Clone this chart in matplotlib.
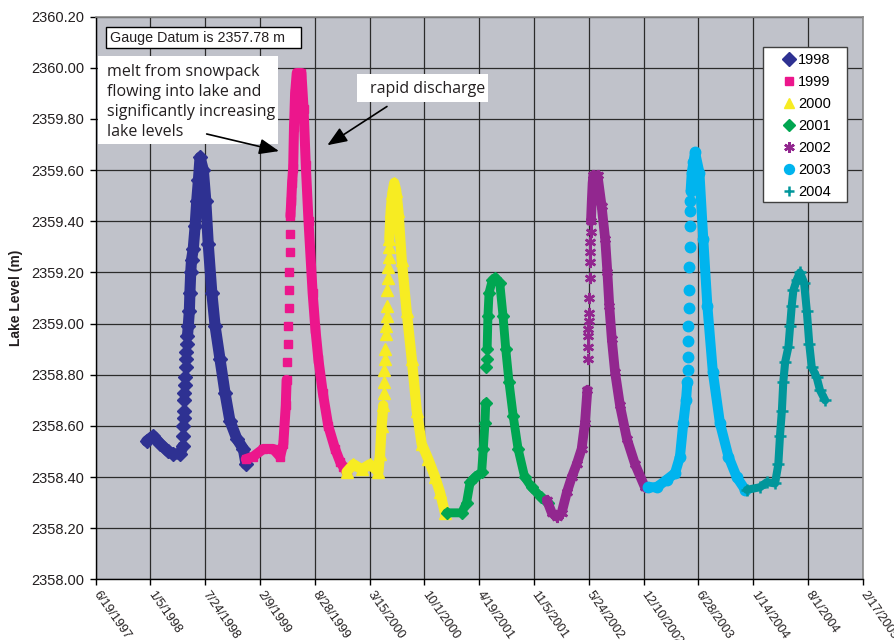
"""Daily lake level, one marker series per year (1998-2004)."""

from datetime import datetime

import matplotlib

matplotlib.use("Agg")

import matplotlib.pyplot as plt
import numpy as np
from matplotlib.patches import Rectangle

NAN = float("nan")

YEARS = ["1998", "1999", "2000", "2001", "2002", "2003", "2004"]

X_TICK_LABELS = [
    "6/19/1997", "1/5/1998", "7/24/1998", "2/9/1999", "8/28/1999",
    "3/15/2000", "10/1/2000", "4/19/2001", "11/5/2001", "5/24/2002",
    "12/10/2002", "6/28/2003", "1/14/2004", "8/1/2004", "2/17/2005",
]
Y_TICKS = [2358.00, 2358.20, 2358.40, 2358.60, 2358.80, 2359.00,
           2359.20, 2359.40, 2359.60, 2359.80, 2360.00, 2360.20]

# Dense daily readings; a NaN level splits the trace where readings spread out.
DATES_1998 = ["1997-12-22", "1998-01-15", "1998-02-09", "1998-03-11", "1998-03-29",
              "1998-04-23", "1998-05-03", "1998-05-03",
              "1998-05-20", "1998-05-23", "1998-05-27", "1998-05-29", "1998-06-01",
              "1998-06-04", "1998-06-10", "1998-06-17", "1998-06-23", "1998-06-29",
              "1998-07-05", "1998-07-17", "1998-07-26", "1998-08-04", "1998-08-17",
              "1998-08-29", "1998-09-16", "1998-10-04", "1998-10-22", "1998-11-16",
              "1998-12-10", "1998-12-20"]
LEVELS_1998 = [2358.54, 2358.56, 2358.53, 2358.50, 2358.49,
               2358.49, 2358.52, NAN,
               2358.95, 2358.99, 2359.05, 2359.12, 2359.20,
               2359.25, 2359.29, 2359.38, 2359.48, 2359.56,
               2359.65, 2359.60, 2359.48, 2359.31, 2359.12,
               2358.99, 2358.86, 2358.73, 2358.62, 2358.55,
               2358.51, 2358.45]
# Readings on the steep spring rise that show up as separate markers.
RISE_DATES_1998 = ["1998-05-04", "1998-05-05", "1998-05-06", "1998-05-07",
                   "1998-05-08", "1998-05-09", "1998-05-11", "1998-05-12",
                   "1998-05-13", "1998-05-15", "1998-05-16", "1998-05-18"]
RISE_LEVELS_1998 = [2358.56, 2358.60, 2358.63, 2358.66, 2358.70, 2358.73,
                    2358.76, 2358.79, 2358.83, 2358.86, 2358.89, 2358.92]

DATES_1999 = ["1998-12-19", "1999-01-15", "1999-02-21", "1999-03-29", "1999-04-23",
              "1999-05-05", "1999-05-14", "1999-05-17", "1999-05-17",
              "1999-05-31", "1999-06-03", "1999-06-06", "1999-06-10", "1999-06-13",
              "1999-06-17", "1999-06-23", "1999-07-10", "1999-07-18", "1999-07-26",
              "1999-08-05", "1999-08-20", "1999-08-30", "1999-09-10", "1999-09-26",
              "1999-10-16", "1999-11-10", "1999-11-28", "1999-12-10", "1999-12-22"]
LEVELS_1999 = [2358.47, 2358.48, 2358.51, 2358.51, 2358.48,
               2358.53, 2358.68, 2358.78, NAN,
               2359.42, 2359.48, 2359.55, 2359.61, 2359.77,
               2359.90, 2359.98, 2359.98, 2359.84, 2359.62,
               2359.40, 2359.12, 2358.98, 2358.86, 2358.73,
               2358.60, 2358.51, 2358.46, 2358.44, 2358.42]
RISE_DATES_1999 = ["1999-05-19", "1999-05-21", "1999-05-22", "1999-05-24",
                   "1999-05-25", "1999-05-27", "1999-05-28", "1999-05-30"]
RISE_LEVELS_1999 = [2358.85, 2358.92, 2358.99, 2359.06, 2359.13, 2359.20,
                    2359.28, 2359.35]

DATES_2000 = ["1999-12-22", "2000-01-16", "2000-02-15", "2000-03-16", "2000-04-16",
              "2000-04-22", "2000-04-28", "2000-05-04", "2000-05-04",
              "2000-05-26", "2000-05-31", "2000-06-06", "2000-06-13", "2000-06-20",
              "2000-06-28", "2000-07-10", "2000-07-28", "2000-08-16", "2000-09-03",
              "2000-09-21", "2000-10-15", "2000-11-09", "2000-11-27", "2000-12-15"]
LEVELS_2000 = [2358.42, 2358.45, 2358.43, 2358.45, 2358.42,
               2358.49, 2358.60, 2358.68, NAN,
               2359.33, 2359.44, 2359.51, 2359.55, 2359.52,
               2359.44, 2359.25, 2359.05, 2358.86, 2358.66,
               2358.53, 2358.47, 2358.40, 2358.34, 2358.26]
RISE_DATES_2000 = ["2000-05-05", "2000-05-07", "2000-05-08", "2000-05-10",
                   "2000-05-11", "2000-05-13", "2000-05-14", "2000-05-16",
                   "2000-05-17", "2000-05-19", "2000-05-20", "2000-05-22",
                   "2000-05-23", "2000-05-25"]
RISE_LEVELS_2000 = [2358.73, 2358.77, 2358.82, 2358.86, 2358.90, 2358.96,
                    2358.99, 2359.03, 2359.07, 2359.13, 2359.18, 2359.22,
                    2359.26, 2359.30]

DATES_2001 = ["2000-12-21", "2001-02-14", "2001-03-04", "2001-03-17", "2001-04-04",
              "2001-04-28", "2001-05-04", "2001-05-10", "2001-05-13", "2001-05-13",
              "2001-05-18", "2001-05-21", "2001-05-25", "2001-06-06", "2001-06-17",
              "2001-07-03", "2001-07-15", "2001-07-25", "2001-08-06", "2001-08-21",
              "2001-09-08", "2001-10-02", "2001-10-27", "2001-12-02", "2001-12-27"]
LEVELS_2001 = [2358.26, 2358.26, 2358.30, 2358.38, 2358.40,
               2358.42, 2358.51, 2358.61, 2358.69, NAN,
               2358.90, 2359.03, 2359.12, 2359.17, 2359.18,
               2359.16, 2359.03, 2358.90, 2358.77, 2358.64,
               2358.51, 2358.40, 2358.36, 2358.32, 2358.30]
RISE_DATES_2001 = ["2001-05-14", "2001-05-16"]
RISE_LEVELS_2001 = [2358.83, 2358.86]

DATES_2002 = ["2001-12-22", "2002-01-09", "2002-01-27", "2002-02-14", "2002-03-05",
              "2002-03-23", "2002-04-10", "2002-04-28", "2002-05-10", "2002-05-19",
              "2002-05-19",
              "2002-06-01", "2002-06-04", "2002-06-07", "2002-06-10", "2002-06-25",
              "2002-07-10", "2002-07-23", "2002-07-31", "2002-08-07", "2002-08-16",
              "2002-08-28", "2002-09-15", "2002-10-10", "2002-11-09", "2002-12-15"]
LEVELS_2002 = [2358.31, 2358.26, 2358.245, 2358.26, 2358.34,
               2358.40, 2358.45, 2358.51, 2358.61, 2358.74,
               NAN,
               2359.40, 2359.48, 2359.55, 2359.58, 2359.58,
               2359.46, 2359.33, 2359.20, 2359.07, 2358.94,
               2358.81, 2358.68, 2358.55, 2358.45, 2358.36]
RISE_DATES_2002 = ["2002-05-20", "2002-05-21", "2002-05-22", "2002-05-23",
                   "2002-05-24", "2002-05-25", "2002-05-26", "2002-05-27",
                   "2002-05-28", "2002-05-29", "2002-05-30", "2002-05-31"]
RISE_LEVELS_2002 = [2358.86, 2358.91, 2358.95, 2358.98, 2359.01, 2359.04,
                    2359.10, 2359.18, 2359.24, 2359.28, 2359.32, 2359.36]

DATES_2003 = ["2002-12-28", "2003-01-27", "2003-03-05", "2003-04-04", "2003-04-22",
              "2003-05-04", "2003-05-14", "2003-05-19", "2003-05-19",
              "2003-05-31", "2003-06-04", "2003-06-10", "2003-06-16", "2003-07-02",
              "2003-07-16", "2003-07-31", "2003-08-20", "2003-09-15", "2003-10-16",
              "2003-11-15", "2003-12-16"]
LEVELS_2003 = [2358.36, 2358.36, 2358.39, 2358.415, 2358.48,
               2358.61, 2358.70, 2358.77, NAN,
               2359.52, 2359.59, 2359.63, 2359.67, 2359.59,
               2359.33, 2359.07, 2358.81, 2358.61, 2358.48,
               2358.40, 2358.35]
RISE_DATES_2003 = ["2003-05-20", "2003-05-21", "2003-05-22", "2003-05-23",
                   "2003-05-24", "2003-05-25", "2003-05-26", "2003-05-27",
                   "2003-05-28", "2003-05-29", "2003-05-30"]
RISE_LEVELS_2003 = [2358.82, 2358.87, 2358.93, 2358.99, 2359.06, 2359.13,
                    2359.22, 2359.30, 2359.38, 2359.44, 2359.48]

DATES_2004 = ["2003-12-22", "2004-02-08", "2004-03-04", "2004-04-03", "2004-04-15",
              "2004-04-21", "2004-04-28", "2004-05-03", "2004-05-10", "2004-05-22",
              "2004-05-28", "2004-06-03", "2004-06-09", "2004-06-21", "2004-07-03",
              "2004-07-18", "2004-07-28", "2004-08-06", "2004-08-15", "2004-09-02",
              "2004-09-14", "2004-10-03"]
LEVELS_2004 = [2358.35, 2358.36, 2358.38, 2358.375, 2358.45,
               2358.56, 2358.66, 2358.77, 2358.85, 2358.91,
               2358.99, 2359.07, 2359.13, 2359.17, 2359.20,
               2359.16, 2359.05, 2358.92, 2358.83, 2358.79,
               2358.74, 2358.70]
RISE_DATES_2004 = []
RISE_LEVELS_2004 = []

SERIES = [
    (DATES_1998, LEVELS_1998, RISE_DATES_1998, RISE_LEVELS_1998),
    (DATES_1999, LEVELS_1999, RISE_DATES_1999, RISE_LEVELS_1999),
    (DATES_2000, LEVELS_2000, RISE_DATES_2000, RISE_LEVELS_2000),
    (DATES_2001, LEVELS_2001, RISE_DATES_2001, RISE_LEVELS_2001),
    (DATES_2002, LEVELS_2002, RISE_DATES_2002, RISE_LEVELS_2002),
    (DATES_2003, LEVELS_2003, RISE_DATES_2003, RISE_LEVELS_2003),
    (DATES_2004, LEVELS_2004, RISE_DATES_2004, RISE_LEVELS_2004),
]

COLORS = ["#2E3192", "#EC168C", "#F7EC22", "#00A651", "#92278F", "#00B4EE", "#00969B"]
MARKERS = ["D", "s", "^", "D", (6, 2, 0), "o", "+"]
MARKER_SIZES = [7.0, 6.2, 8.0, 6.5, 8.0, 7.5, 8.0]
TRACE_WIDTHS = [8.0, 7.2, 7.4, 6.4, 7.0, 7.2, 5.8]

PLOT_BG = "#C0C2CA"
GRID = "#2B2B2B"
TEXT = "#231F20"


def to_day(values):
    return np.array(values, dtype="datetime64[D]")


def main() -> None:
    plt.rcParams["font.family"] = ["Liberation Sans", "DejaVu Sans"]

    fig = plt.figure(figsize=(8.95, 6.4), dpi=100)
    ax = fig.add_axes([0.1069, 0.0948, 0.8570, 0.8791])
    ax.set_facecolor(PLOT_BG)

    for year, color, marker, ms, lw, (dates, levels, rise_d, rise_l) in zip(
        YEARS, COLORS, MARKERS, MARKER_SIZES, TRACE_WIDTHS, SERIES
    ):
        d = to_day(dates)
        lv = np.array(levels, dtype=float)
        ax.plot(d, lv, "-", color=color, lw=lw, solid_capstyle="round",
                solid_joinstyle="round", zorder=3)
        all_d = np.concatenate([d, to_day(rise_d)])
        all_l = np.concatenate([lv, np.array(rise_l, dtype=float)])
        mew = 1.8 if marker == "+" or isinstance(marker, tuple) else 1.0
        ax.plot(all_d, all_l, ls="none", marker=marker, ms=ms, color=color,
                mew=mew, label=year, zorder=3)

    tick_dates = [datetime.strptime(t, "%m/%d/%Y") for t in X_TICK_LABELS]
    ax.set_xlim(tick_dates[0], tick_dates[-1])
    ax.set_xticks(tick_dates)
    ax.set_xticklabels(X_TICK_LABELS, rotation=-55, ha="left", va="center",
                       rotation_mode="anchor", fontsize=9, color=TEXT)
    ax.set_ylim(Y_TICKS[0], Y_TICKS[-1])
    ax.set_yticks(Y_TICKS)
    ax.set_yticklabels([f"{v:.2f}" for v in Y_TICKS], fontsize=10.5, color=TEXT)
    ax.tick_params(axis="both", direction="out", length=4, width=1, color="black")
    ax.tick_params(axis="y", pad=4)
    ax.tick_params(axis="x", pad=5)

    ax.grid(True, color=GRID, lw=0.9)
    ax.set_axisbelow(True)
    for side in ("left", "bottom"):
        ax.spines[side].set_color("black")
        ax.spines[side].set_linewidth(1.0)
    for side in ("top", "right"):
        ax.spines[side].set_color("#8A8A8A")
        ax.spines[side].set_linewidth(1.2)

    ax.set_ylabel("Lake Level (m)", fontsize=10, fontweight="bold", color=TEXT,
                  labelpad=6)

    # legend: white frame drawn as a patch, entries placed inside it
    ax.add_patch(Rectangle((0.8704, 0.6701), 0.1087, 0.2766, transform=ax.transAxes,
                           facecolor="white", edgecolor="#404040", lw=1.0, zorder=4))
    ax.legend(loc="upper left", bbox_to_anchor=(0.8957, 0.9350), frameon=False,
              fontsize=10.5, handlelength=0.8, handletextpad=0.25,
              labelspacing=0.55, borderpad=0, borderaxespad=0, numpoints=1,
              markerscale=0.95)

    # gauge datum note
    ax.add_patch(Rectangle((0.0134, 0.9438), 0.2539, 0.0384, transform=ax.transAxes,
                           facecolor="white", edgecolor="black", lw=1.0, zorder=4))
    ax.text(0.0186, 0.9630, "Gauge Datum is 2357.78 m", transform=ax.transAxes,
            ha="left", va="center", fontsize=10.3, color=TEXT, zorder=5)

    # snowmelt note and arrow
    ax.add_patch(Rectangle((0.0026, 0.7732), 0.2355, 0.1575, transform=ax.transAxes,
                           facecolor="white", edgecolor="none", zorder=4))
    ax.text(0.0143, 0.9165,
            "melt from snowpack\nflowing into lake and\nsignificantly increasing\nlake levels",
            transform=ax.transAxes, ha="left", va="top", fontsize=11.5,
            family=["Open Sans", "DejaVu Sans"], linespacing=1.33, color=TEXT, zorder=5)
    arrow = dict(arrowstyle="-|>,head_length=0.8,head_width=0.32",
                 color="black", lw=1.2, mutation_scale=15)
    ax.annotate("", xy=(0.2425, 0.7600), xytext=(0.1412, 0.7927),
                xycoords="axes fraction", textcoords="axes fraction",
                arrowprops=arrow, zorder=6)

    # discharge note and arrow
    ax.add_patch(Rectangle((0.3403, 0.8478), 0.1716, 0.0504, transform=ax.transAxes,
                           facecolor="white", edgecolor="none", zorder=4))
    ax.text(0.3576, 0.8720, "rapid discharge", transform=ax.transAxes,
            ha="left", va="center", fontsize=11.5,
            family=["Open Sans", "DejaVu Sans"], color=TEXT, zorder=5)
    ax.annotate("", xy=(0.2990, 0.7689), xytext=(0.3828, 0.8431),
                xycoords="axes fraction", textcoords="axes fraction",
                arrowprops=arrow, zorder=6)

    fig.savefig("out.png", dpi=100)
    plt.close(fig)


if __name__ == "__main__":
    main()
